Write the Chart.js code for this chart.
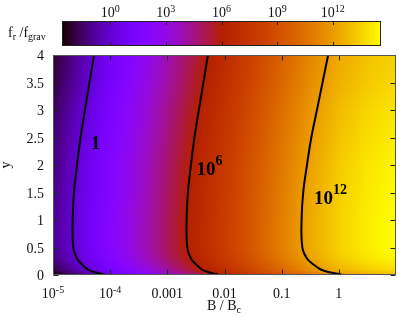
<!DOCTYPE html>
<html><head><meta charset="utf-8">
<script src="https://cdn.jsdelivr.net/npm/chart.js@4.4.0/dist/chart.umd.min.js"></script>
<style>
html,body{margin:0;padding:0;background:#fff;}
#wrap{position:relative;width:399px;height:317px;overflow:hidden;}
#wrap canvas{position:absolute;left:0;top:0;}
</style></head><body>
<div id="wrap"><canvas id="main" width="399" height="317"></canvas><canvas id="cbar" width="399" height="317"></canvas></div>
<script>
// ---------------- data ----------------
// colour field: log10(f_r/f_grav) sampled on a grid of log10(B/Bc) columns and y rows
const fieldLogB = [-5, -4.5, -4, -3.5, -3, -2.5, -2, -1.5, -1, -0.5, 0, 0.5, 1];
const fieldY = [0, 0.02, 0.05, 0.1, 0.2, 0.3, 0.5, 1, 1.5, 2, 2.5, 3, 3.5, 4];
const fieldLogF = [
  [-2.7, -1.2, 0.3, 1.8, 3.3, 4.8, 6.3, 7.8, 9.3, 10.7, 11.8, 12.5, 12.9],
  [-2.6, -1.1, 0.4, 1.9, 3.4, 4.9, 6.4, 7.9, 9.4, 10.8, 11.9, 12.6, 13.0],
  [-2.2, -0.7, 0.8, 2.3, 3.8, 5.3, 6.8, 8.3, 9.8, 11.2, 12.3, 13.0, 13.4],
  [-1.8, -0.3, 1.2, 2.7, 4.2, 5.7, 7.2, 8.7, 10.2, 11.6, 12.7, 13.4, 13.8],
  [-1.5, 0.0, 1.5, 3.0, 4.5, 6.0, 7.5, 9.0, 10.5, 11.9, 13.0, 13.7, 14.1],
  [-1.2, 0.3, 1.8, 3.3, 4.8, 6.3, 7.8, 9.3, 10.8, 12.2, 13.3, 14.0, 14.4],
  [-1.0, 0.5, 2.0, 3.5, 5.0, 6.5, 8.0, 9.5, 11.0, 12.4, 13.5, 14.2, 14.6],
  [-1.0, 0.5, 2.0, 3.5, 5.0, 6.5, 8.0, 9.5, 11.0, 12.4, 13.5, 14.2, 14.6],
  [-1.1, 0.4, 1.9, 3.4, 4.9, 6.4, 7.9, 9.4, 10.9, 12.3, 13.4, 14.1, 14.5],
  [-1.2, 0.3, 1.8, 3.3, 4.8, 6.3, 7.8, 9.3, 10.8, 12.2, 13.3, 14.0, 14.4],
  [-1.4, 0.1, 1.6, 3.1, 4.6, 6.1, 7.6, 9.1, 10.6, 12.0, 13.1, 13.8, 14.2],
  [-1.6, -0.1, 1.4, 2.9, 4.4, 5.9, 7.4, 8.9, 10.4, 11.8, 12.9, 13.6, 14.0],
  [-1.9, -0.4, 1.1, 2.6, 4.1, 5.6, 7.1, 8.6, 10.1, 11.5, 12.6, 13.3, 13.7],
  [-2.1, -0.6, 0.9, 2.4, 3.9, 5.4, 6.9, 8.4, 9.9, 11.3, 12.4, 13.1, 13.5]
];
// contour lines (B/Bc at each y)
const contourY   = [4, 3.5, 3, 2.5, 2, 1.5, 1, 0.5, 0.3, 0.2, 0.1, 0.05, 0.02, 0];
const contour1B  = [5.21e-5, 4.35e-5, 3.62e-5, 3.03e-5, 2.63e-5, 2.33e-5, 2.21e-5, 2.26e-5, 2.63e-5, 3.18e-5, 4.09e-5, 5.42e-5, 7.48e-5, 8.11e-5];
const contour6B  = [5.13e-3, 4.28e-3, 3.56e-3, 2.98e-3, 2.59e-3, 2.29e-3, 2.17e-3, 2.23e-3, 2.59e-3, 3.13e-3, 4.03e-3, 5.33e-3, 7.08e-3, 7.98e-3];
const contour12B = [0.650, 0.519, 0.414, 0.330, 0.277, 0.238, 0.223, 0.230, 0.277, 0.351, 0.483, 0.687, 1.03, 1.14];
const contourLabelText = [['1',''], ['10','6'], ['10','12']];
const contourLabelB = [4.57e-5, 3.23e-3, 0.366];
const contourLabelY = [2.29, 1.818, 1.30];
// ticks
const xTickValues = [1e-5, 1e-4, 1e-3, 1e-2, 0.1, 1];
const xTickLabels = [['10','-5'], ['10','-4'], ['0.001',''], ['0.01',''], ['0.1',''], ['1','']];
const yTickValues = [0, 0.5, 1, 1.5, 2, 2.5, 3, 3.5, 4];
const yTickLabels = ['0', '0.5', '1', '1.5', '2', '2.5', '3', '3.5', '4'];
const cbTickValues = [1, 1e3, 1e6, 1e9, 1e12];
const cbTickLabels = [['10','0'], ['10','3'], ['10','6'], ['10','9'], ['10','12']];
const cbLogRange = [-2.6, 14.6];

// ---------------- helpers ----------------
const SERIF = '"Liberation Serif", "DejaVu Serif", serif';
function palette(t) {
  t = Math.max(0, Math.min(1, t));
  const r = Math.sqrt(t), g = t * t * t, b = Math.max(0, Math.sin(2 * Math.PI * t));
  return [Math.round(r * 255), Math.round(g * 255), Math.round(b * 255)];
}
function findIdx(arr, v) {
  if (v <= arr[0]) return 0;
  for (let i = 0; i < arr.length - 1; i++) if (v <= arr[i + 1]) return i;
  return arr.length - 2;
}
function fieldAt(lb, y) {
  const i = findIdx(fieldLogB, lb), j = findIdx(fieldY, y);
  let u = (lb - fieldLogB[i]) / (fieldLogB[i + 1] - fieldLogB[i]);
  let v = (y - fieldY[j]) / (fieldY[j + 1] - fieldY[j]);
  u = Math.max(0, Math.min(1, u)); v = Math.max(0, Math.min(1, v));
  const a = fieldLogF[j][i], b = fieldLogF[j][i + 1], c = fieldLogF[j + 1][i], d = fieldLogF[j + 1][i + 1];
  return (a * (1 - u) + b * u) * (1 - v) + (c * (1 - u) + d * u) * v;
}
// text with superscript/subscript; align 'left' | 'center' | 'right'
function drawScript(ctx, base, extra, x, y, o) {
  const bf = (o.bold ? 'bold ' : '') + o.size + 'px ' + SERIF;
  const sf = (o.bold ? 'bold ' : '') + o.ssize + 'px ' + SERIF;
  ctx.font = bf; const w1 = ctx.measureText(base).width;
  ctx.font = sf; const w2 = extra ? ctx.measureText(extra).width : 0;
  let x0 = x;
  if (o.align === 'center') x0 = x - (w1 + w2) / 2;
  else if (o.align === 'right') x0 = x - (w1 + w2);
  ctx.textAlign = 'left'; ctx.textBaseline = 'alphabetic';
  ctx.fillStyle = o.color || '#111';
  ctx.font = bf; ctx.fillText(base, x0, y);
  if (extra) { ctx.font = sf; ctx.fillText(extra, x0 + w1, y + o.shift); }
  return w1 + w2;
}

// ---------------- main chart ----------------
const heatPlugin = {
  id: 'heat',
  beforeDatasetsDraw(chart) {
    const ctx = chart.ctx, a = chart.chartArea, xs = chart.scales.x, ys = chart.scales.y;
    const L = Math.round(a.left), T = Math.round(a.top);
    const W = Math.round(a.right) - L, H = Math.round(a.bottom) - T;
    const img = ctx.createImageData(W, H);
    const span = cbLogRange[1] - cbLogRange[0];
    const colLB = [];
    for (let i = 0; i < W; i++) colLB.push(Math.log10(xs.getValueForPixel(L + i + 0.5)));
    for (let j = 0; j < H; j++) {
      const yv = ys.getValueForPixel(T + j + 0.5);
      for (let i = 0; i < W; i++) {
        const c = palette((fieldAt(colLB[i], yv) - cbLogRange[0]) / span);
        const k = (j * W + i) * 4;
        img.data[k] = c[0]; img.data[k + 1] = c[1]; img.data[k + 2] = c[2]; img.data[k + 3] = 255;
      }
    }
    ctx.putImageData(img, L, T);
  },
  afterDatasetsDraw(chart) {
    const ctx = chart.ctx, a = chart.chartArea, xs = chart.scales.x, ys = chart.scales.y;
    const L = Math.round(a.left) + 0.5, R = Math.round(a.right) - 0.5;
    const T = Math.round(a.top) + 0.5, B = Math.round(a.bottom) - 0.5;
    ctx.save();
    // ticks (inward)
    ctx.strokeStyle = '#222'; ctx.lineWidth = 1; ctx.beginPath();
    xTickValues.forEach(v => {
      const px = Math.round(xs.getPixelForValue(v)) + 0.5;
      ctx.moveTo(px, B); ctx.lineTo(px, B - 5);
      ctx.moveTo(px, T); ctx.lineTo(px, T + 5);
    });
    yTickValues.forEach(v => {
      const py = Math.round(ys.getPixelForValue(v)) + 0.5;
      ctx.moveTo(L, py); ctx.lineTo(L + 5, py);
      ctx.moveTo(R, py); ctx.lineTo(R - 5, py);
    });
    ctx.stroke();
    // frame
    ctx.strokeStyle = '#555'; ctx.strokeRect(L, T, R - L, B - T);
    // x tick labels
    xTickValues.forEach((v, i) => {
      drawScript(ctx, xTickLabels[i][0], xTickLabels[i][1], xs.getPixelForValue(v), 298,
        {size: 14, ssize: 10, shift: -5, align: 'center'});
    });
    // y tick labels
    yTickValues.forEach((v, i) => {
      drawScript(ctx, yTickLabels[i], '', 44, ys.getPixelForValue(v) + 5, {size: 14, ssize: 10, shift: 0, align: 'right'});
    });
    // axis titles
    drawScript(ctx, 'B / B', 'c', 224, 310, {size: 14, ssize: 10, shift: 3, align: 'center'});
    ctx.save(); ctx.translate(10, 165); ctx.rotate(-Math.PI / 2);
    drawScript(ctx, 'y', '', 0, 0, {size: 14, ssize: 10, shift: 0, align: 'center'});
    ctx.restore();
    // contour labels
    contourLabelText.forEach((t, i) => {
      drawScript(ctx, t[0], t[1], xs.getPixelForValue(contourLabelB[i]), ys.getPixelForValue(contourLabelY[i]),
        {size: 19, ssize: 14, shift: -10, align: 'left', bold: true, color: '#000'});
    });
    ctx.restore();
  }
};

function contourSet(bArr) {
  return {
    data: contourY.map((y, i) => ({x: bArr[i], y: y})),
    showLine: true, borderColor: '#000', borderWidth: 2, pointRadius: 0, tension: 0.4, fill: false
  };
}

new Chart(document.getElementById('main'), {
  type: 'scatter',
  data: {datasets: [contourSet(contour1B), contourSet(contour6B), contourSet(contour12B)]},
  options: {
    responsive: false, devicePixelRatio: 1, animation: false, events: [],
    layout: {padding: {left: 53, right: 3, top: 55, bottom: 42}},
    scales: {
      x: {type: 'logarithmic', min: 1e-5, max: 10, display: false},
      y: {type: 'linear', min: 0, max: 4, display: false}
    },
    plugins: {legend: {display: false}, tooltip: {enabled: false}}
  },
  plugins: [heatPlugin]
});

// ---------------- colour bar ----------------
const cbPlugin = {
  id: 'cb',
  afterDraw(chart) {
    const ctx = chart.ctx, a = chart.chartArea, xs = chart.scales.x;
    const L = Math.round(a.left), R = Math.round(a.right), T = Math.round(a.top), B = Math.round(a.bottom);
    const span = cbLogRange[1] - cbLogRange[0];
    ctx.save();
    for (let px = L; px < R; px++) {
      const lv = Math.log10(xs.getValueForPixel(px + 0.5));
      const c = palette((lv - cbLogRange[0]) / span);
      ctx.fillStyle = 'rgb(' + c[0] + ',' + c[1] + ',' + c[2] + ')';
      ctx.fillRect(px, T, 1, B - T);
    }
    ctx.strokeStyle = '#222'; ctx.lineWidth = 1; ctx.beginPath();
    cbTickValues.forEach(v => {
      const px = Math.round(xs.getPixelForValue(v)) + 0.5;
      ctx.moveTo(px, T); ctx.lineTo(px, T + 4);
      ctx.moveTo(px, B); ctx.lineTo(px, B - 4);
    });
    ctx.stroke();
    ctx.strokeRect(L + 0.5, T + 0.5, R - L - 1, B - T - 1);
    cbTickValues.forEach((v, i) => {
      drawScript(ctx, cbTickLabels[i][0], cbTickLabels[i][1], xs.getPixelForValue(v), 17,
        {size: 14, ssize: 10, shift: -5, align: 'center'});
    });
    // title f_r /f_grav
    let x = 8;
    x += drawScript(ctx, 'f', 'r', x, 37, {size: 14, ssize: 10, shift: 3, align: 'left'});
    drawScript(ctx, ' /f', 'grav', x, 37, {size: 14, ssize: 10, shift: 3, align: 'left'});
    ctx.restore();
  }
};

new Chart(document.getElementById('cbar'), {
  type: 'scatter',
  data: {datasets: []},
  options: {
    responsive: false, devicePixelRatio: 1, animation: false, events: [],
    layout: {padding: {left: 62, right: 18, top: 21, bottom: 271}},
    scales: {
      x: {type: 'logarithmic', min: Math.pow(10, cbLogRange[0]), max: Math.pow(10, cbLogRange[1]), display: false},
      y: {type: 'linear', min: 0, max: 1, display: false}
    },
    plugins: {legend: {display: false}, tooltip: {enabled: false}}
  },
  plugins: [cbPlugin]
});
</script>
</body></html>
